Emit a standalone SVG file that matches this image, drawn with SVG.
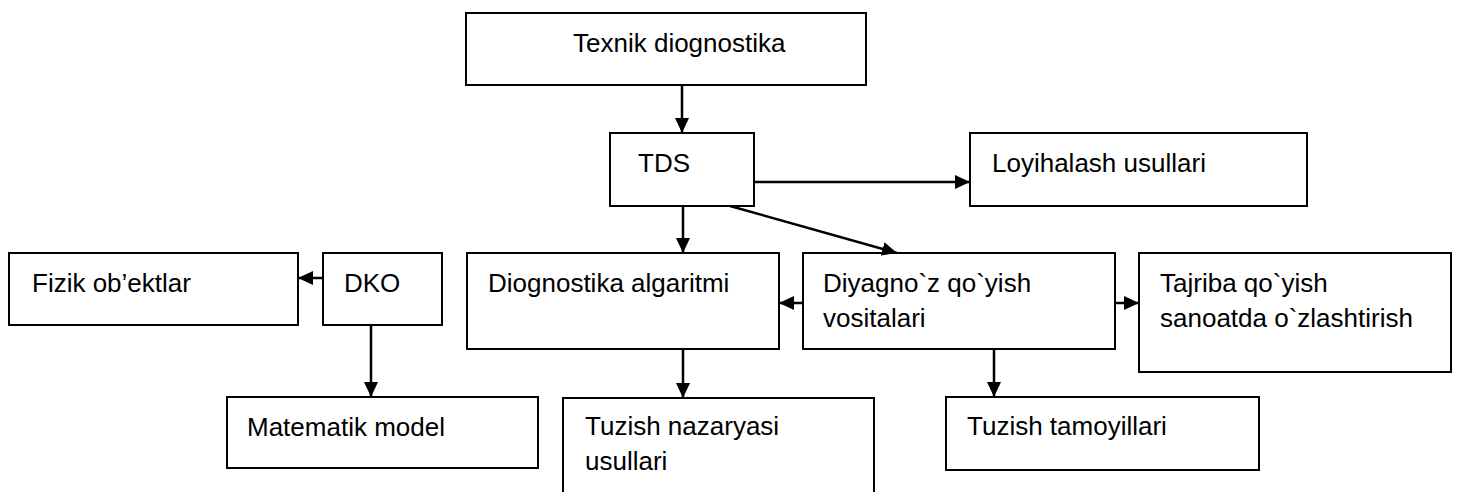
<svg xmlns="http://www.w3.org/2000/svg" width="1458" height="492" viewBox="0 0 1458 492">
  <style>
    .box { fill: #ffffff; stroke: #000000; stroke-width: 2; }
    .lbl { font-family: "Liberation Sans", Arial, sans-serif; font-size: 26px; fill: #000000; }
    .edge { fill: none; stroke: #000000; stroke-width: 2.5; marker-end: url(#arrow); }
  </style>
  <defs>
    <marker id="arrow" markerUnits="userSpaceOnUse" markerWidth="16" markerHeight="14" refX="15" refY="7" orient="auto">
      <path d="M0,0 L15,7 L0,14 Z" fill="#000000"/>
    </marker>
  </defs>
  <rect width="1458" height="492" fill="#ffffff"/>

  <g id="node-texnik">
    <rect class="box" x="466" y="13" width="400" height="72"/>
    <text class="lbl" x="573" y="52">Texnik diognostika</text>
  </g>
  <g id="node-tds">
    <rect class="box" x="610" y="133" width="144" height="73"/>
    <text class="lbl" x="638" y="172">TDS</text>
  </g>
  <g id="node-loyihalash">
    <rect class="box" x="970" y="133" width="337" height="73"/>
    <text class="lbl" x="992" y="172">Loyihalash usullari</text>
  </g>
  <g id="node-fizik">
    <rect class="box" x="9" y="253" width="289" height="72"/>
    <text class="lbl" x="32" y="292">Fizik ob’ektlar</text>
  </g>
  <g id="node-dko">
    <rect class="box" x="323" y="253" width="119" height="72"/>
    <text class="lbl" x="344" y="292">DKO</text>
  </g>
  <g id="node-algaritm">
    <rect class="box" x="467" y="253" width="312" height="96"/>
    <text class="lbl" x="488" y="292">Diognostika algaritmi</text>
  </g>
  <g id="node-vositalar">
    <rect class="box" x="803" y="253" width="312" height="96"/>
    <text class="lbl" x="823" y="292">Diyagno`z qo`yish</text>
    <text class="lbl" x="823" y="327">vositalari</text>
  </g>
  <g id="node-tajriba">
    <rect class="box" x="1139" y="253" width="312" height="119"/>
    <text class="lbl" x="1160" y="292">Tajriba qo`yish</text>
    <text class="lbl" x="1160" y="327">sanoatda o`zlashtirish</text>
  </g>
  <g id="node-matematik">
    <rect class="box" x="227" y="397" width="311" height="71"/>
    <text class="lbl" x="247" y="436">Matematik model</text>
  </g>
  <g id="node-nazaryasi">
    <rect class="box" x="563" y="398" width="311" height="110"/>
    <text class="lbl" x="585" y="435">Tuzish nazaryasi</text>
    <text class="lbl" x="585" y="470">usullari</text>
  </g>
  <g id="node-tamoyillar">
    <rect class="box" x="946" y="397" width="313" height="73"/>
    <text class="lbl" x="967" y="435">Tuzish tamoyillari</text>
  </g>

  <g id="connectors">
    <line class="edge" x1="682" y1="84" x2="682" y2="133"/>
    <line class="edge" x1="754" y1="182" x2="970" y2="182"/>
    <line class="edge" x1="683" y1="206" x2="683" y2="253"/>
    <line class="edge" x1="730" y1="206" x2="897" y2="253"/>
    <line class="edge" x1="803" y1="303" x2="779" y2="303"/>
    <line class="edge" x1="1115" y1="303" x2="1139" y2="303"/>
    <line class="edge" x1="683" y1="349" x2="683" y2="398"/>
    <line class="edge" x1="994" y1="349" x2="994" y2="397"/>
    <line class="edge" x1="323" y1="278" x2="298" y2="278"/>
    <line class="edge" x1="371" y1="325" x2="371" y2="397"/>
  </g>
</svg>
